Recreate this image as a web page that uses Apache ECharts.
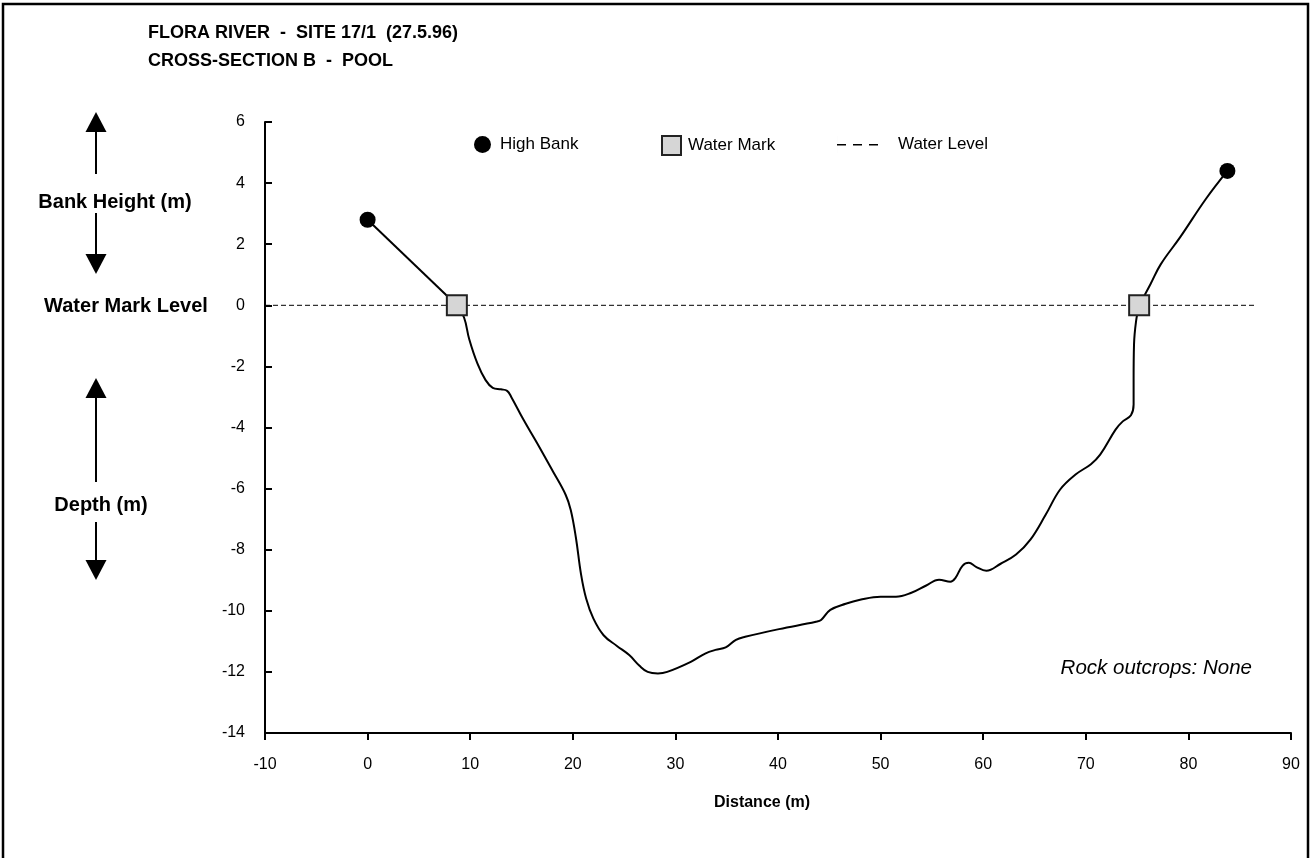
<!DOCTYPE html>
<html><head><meta charset="utf-8">
<script src="https://cdn.jsdelivr.net/npm/echarts@6/dist/echarts.min.js"></script>
<style>html,body{margin:0;padding:0;background:#fff}#c{width:1313px;height:858px}</style>
</head><body><div id="c"></div>
<script>
const FONT = '"Liberation Sans", Arial, sans-serif';
const titleText = 'FLORA RIVER  -  SITE 17/1  (27.5.96)\nCROSS-SECTION B  -  POOL';
const xAxisName = 'Distance (m)';
const note = 'Rock outcrops: None';

// High bank points
const bankX = [0, 83.8];
const bankY = [2.8, 4.4];
// Water mark points
const markX = [8.7, 75.2];
const markY = [0, 0];
// Water level line
const levelX = [-10, 86.5];
const levelY = [0, 0];
// Left bank segment (high bank -> water mark)
const leftBankX = [0, 8.7];
const leftBankY = [2.8, 0];
// Right bank segment (water mark -> high bank)
const rightBankX = [75.2, 76.3, 77.3, 79.2, 81.7, 83.8];
const rightBankY = [0, 0.69, 1.34, 2.23, 3.48, 4.4];
// Channel profile
const profileX = [8.7, 9.4, 9.9, 10.7, 11.5, 12.2, 13.0, 13.6, 14.0, 15.2, 16.5, 18.0, 19.3, 19.8, 20.3, 20.8, 21.3, 22.0, 23.0, 24.3, 25.5, 26.5, 27.3, 28.3, 29.2,
  31.5, 32.9, 33.9, 34.9, 35.9, 36.8, 40.1, 43.7, 44.2, 45.1, 46.6, 48.0, 50.0, 51.5, 53.0, 54.4, 55.7, 56.8, 57.3, 58.0, 58.6, 59.3, 60.3, 61.7, 63.2,
  64.6, 66.1, 67.5, 69.0, 70.5, 71.4, 72.9, 73.6, 74.4, 74.66, 74.66, 74.7, 74.9, 75.2];
const profileY = [0, -0.4, -1.1, -1.9, -2.45, -2.7, -2.75, -2.8, -3.0, -3.75, -4.5, -5.4, -6.2, -6.7, -7.6, -8.8, -9.6, -10.25, -10.8, -11.15, -11.45, -11.8, -12.0, -12.05, -12.0,
  -11.67, -11.4, -11.28, -11.2, -10.95, -10.85, -10.6, -10.36, -10.3, -9.97, -9.77, -9.64, -9.54, -9.54, -9.41, -9.18, -8.98, -9.05, -8.92, -8.52, -8.43, -8.56, -8.69, -8.46, -8.16,
  -7.67, -6.85, -6.03, -5.54, -5.2, -4.89, -4.07, -3.8, -3.6, -3.25, -2.43, -1.28, -0.52, 0];

const zip = (a, b) => a.map((v, i) => [v, b[i]]);

const chart = echarts.init(document.getElementById('c'));
const arrow = (x, tipY, baseY) => ({
  type: 'polygon', shape: { points: [[x, tipY], [x - 10.5, baseY], [x + 10.5, baseY]] }, style: { fill: '#000' }
});
const vline = (x, y1, y2) => ({ type: 'line', shape: { x1: x, y1: y1, x2: x, y2: y2 }, style: { stroke: '#000', lineWidth: 2 } });
const label = (x, y, t) => ({ type: 'text', x: x, y: y, style: { text: t, font: 'bold 20px ' + FONT, fill: '#000', align: 'center', verticalAlign: 'middle' } });
const legendText = { fontFamily: FONT, fontSize: 17, color: '#000' };

chart.setOption({
  backgroundColor: '#fff',
  animation: false,
  title: {
    text: titleText, left: 143, top: 14,
    textStyle: { fontFamily: FONT, fontWeight: 'bold', fontSize: 18, color: '#000', lineHeight: 28 }
  },
  legend: [
    { data: ['High Bank'], left: 469, top: 131, itemWidth: 17, itemHeight: 17, icon: 'circle', selectedMode: false,
      itemStyle: { opacity: 1 }, textStyle: Object.assign({ padding: [0, 0, 0, 4] }, legendText) },
    { data: ['Water Mark'], left: 656, top: 130, itemWidth: 19, itemHeight: 19, icon: 'rect', selectedMode: false,
      itemStyle: { opacity: 1 }, textStyle: Object.assign({ padding: [0, 0, 0, 2] }, legendText) },
    { data: ['Water Level'], left: 832, top: 131, itemWidth: 43, itemHeight: 17, selectedMode: false,
      icon: 'path://M0,8 h9 v1.4 h-9z M16,8 h9 v1.4 h-9z M32,8 h9 v1.4 h-9z M0,0 h0.01 v17 h-0.01z',
      itemStyle: { color: '#000', opacity: 1 }, lineStyle: { opacity: 0 },
      textStyle: Object.assign({ padding: [0, 0, 0, 14] }, legendText) }
  ],
  grid: { left: 265, right: 22, top: 122, bottom: 125, containLabel: false },
  xAxis: {
    type: 'value', min: -10, max: 90, interval: 10,
    name: xAxisName, nameLocation: 'middle', nameGap: 62,
    nameTextStyle: { fontFamily: FONT, fontWeight: 'bold', fontSize: 16, color: '#000', padding: [0, 32, 0, 0] },
    axisLine: { onZero: false, lineStyle: { color: '#000', width: 2 } },
    axisTick: { inside: false, length: 7, lineStyle: { color: '#000', width: 2 } },
    axisLabel: { fontFamily: FONT, fontSize: 16, color: '#000', margin: 24 },
    splitLine: { show: false }
  },
  yAxis: {
    type: 'value', min: -14, max: 6, interval: 2,
    axisLine: { show: true, onZero: false, lineStyle: { color: '#000', width: 2 } },
    axisTick: { show: true, inside: true, length: 7, lineStyle: { color: '#000', width: 2 } },
    axisLabel: { fontFamily: FONT, fontSize: 16, color: '#000', margin: 20 },
    splitLine: { show: false }
  },
  graphic: [
    { type: 'rect', shape: { x: 3, y: 4, width: 1305, height: 870 }, style: { fill: 'none', stroke: '#000', lineWidth: 2.5 }, silent: true },
    arrow(96, 112, 132), vline(96, 128, 174), label(115, 202, 'Bank Height (m)'), vline(96, 213, 259), arrow(96, 274, 254),
    label(126, 306, 'Water Mark Level'),
    arrow(96, 378, 398), vline(96, 394, 482), label(101, 505, 'Depth (m)'), vline(96, 522, 564), arrow(96, 580, 560),
    { type: 'text', right: 61, top: 658, style: { text: note, font: 'italic 20.5px ' + FONT, fill: '#000' } }
  ],
  series: [
    { name: 'Water Level', type: 'line', data: zip(levelX, levelY), symbol: 'none', silent: true,
      lineStyle: { color: '#000', width: 1, type: [5, 3] }, itemStyle: { color: '#000' }, z: 1 },
    { name: 'Left Bank', type: 'line', data: zip(leftBankX, leftBankY), symbol: 'none', silent: true,
      lineStyle: { color: '#000', width: 2 }, z: 2 },
    { name: 'Right Bank', type: 'line', data: zip(rightBankX, rightBankY), symbol: 'none', smooth: 0.4, silent: true,
      lineStyle: { color: '#000', width: 2 }, z: 2 },
    { name: 'Profile', type: 'line', data: zip(profileX, profileY), symbol: 'none', smooth: 0.4, silent: true,
      lineStyle: { color: '#000', width: 2 }, z: 2 },
    { name: 'High Bank', type: 'scatter', data: zip(bankX, bankY), symbol: 'circle', symbolSize: 16, silent: true,
      itemStyle: { color: '#000', opacity: 1 }, z: 5 },
    { name: 'Water Mark', type: 'scatter', data: zip(markX, markY), symbol: 'rect', symbolSize: 20, silent: true,
      itemStyle: { color: '#d6d6d6', borderColor: '#222', borderWidth: 2, opacity: 1 }, z: 5 }
  ]
});
</script></body></html>
